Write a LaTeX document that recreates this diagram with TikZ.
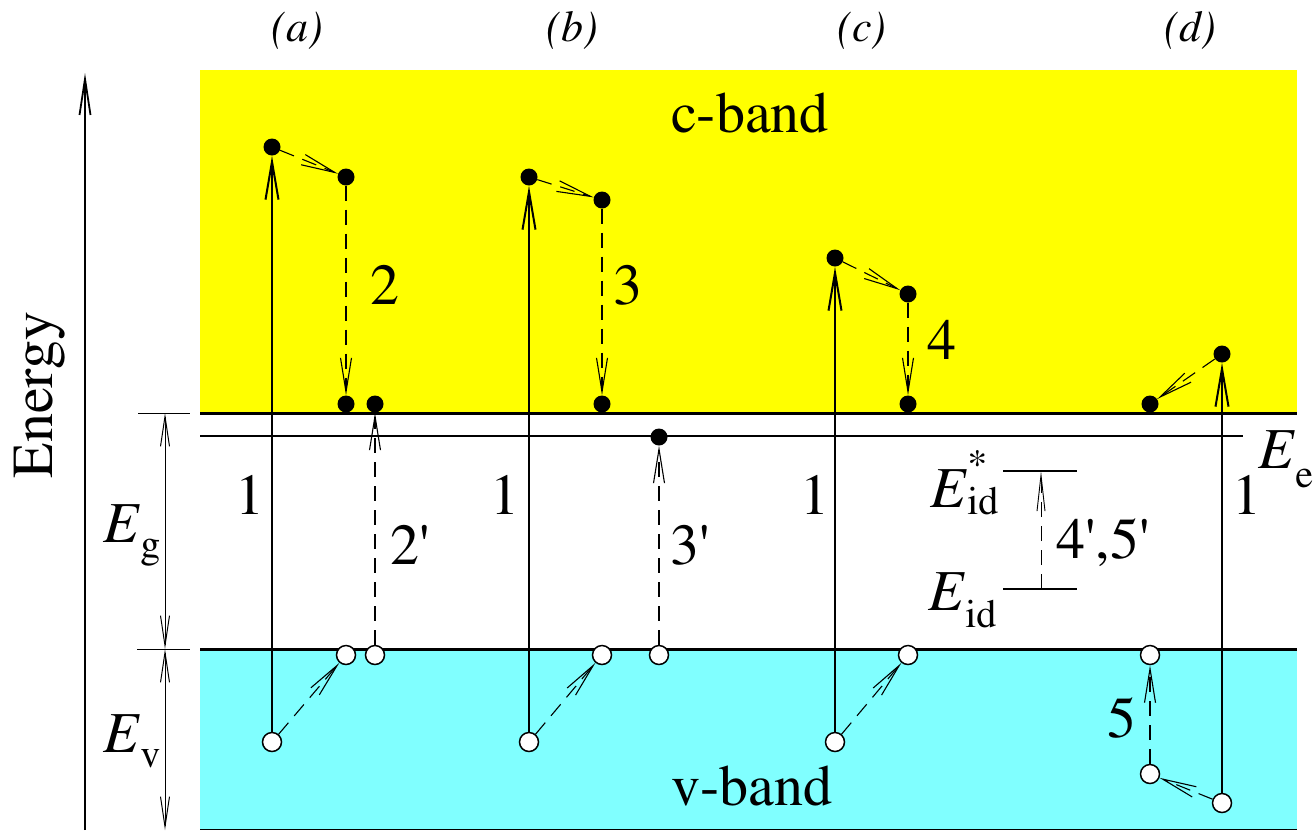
\documentclass[tikz,border=0pt]{standalone}
\usepackage[T1]{fontenc}
\usepackage{mathptmx}
\usetikzlibrary{arrows.meta,positioning}

\definecolor{cbandfill}{RGB}{255,255,0}
\definecolor{vbandfill}{RGB}{128,255,255}

\newcommand{\subsz}{\fontsize{40}{40}\selectfont}
\newcommand{\Elev}[3][-15pt]{\textit{E}\rlap{\raisebox{30pt}{\subsz #3}}\raisebox{#1}{\subsz #2}}
\newcommand{\pr}{\textquotesingle}

\begin{document}
\begin{tikzpicture}[
  x=1pt, y=-1pt,
  font=\rmfamily\fontsize{58}{60}\selectfont,
  >={Straight Barb[length=38pt,width=13pt]},
  elec/.style={
    circle,
    fill=black,
    minimum size=17pt,
    inner sep=0pt
  },
  hole/.style={
    circle,
    draw=black,
    line width=1.5pt,
    fill=white,
    minimum size=19pt,
    inner sep=0pt
  },
  bandline/.style={line width=3pt},
  pump/.style={->, line width=2pt},
  relax/.style={
    ->,
    line width=1.1pt,
    dash pattern=on 15pt off 9pt,
    >={Straight Barb[length=34pt,width=11pt]}
  },
  dimarr/.style={<->, line width=1pt, >={Straight Barb[length=30pt,width=9pt]}},
  panel/.style={font=\rmfamily\fontsize{44}{44}\selectfont\itshape, anchor=base}
]

\useasboundingbox (0,0) rectangle (1316,831);

% bands
\fill[cbandfill] (200,70) rectangle (1297,413);
\fill[vbandfill] (200,649) rectangle (1297,830);
\draw[bandline] (200,413) -- (1297,413);
\draw[bandline] (200,649) -- (1297,649);
\draw[line width=1pt] (200,829.5) -- (1297,829.5);
\draw[line width=2pt] (200,436) -- (1243,436);

\node[anchor=base] (cb) at (750,132) {c-band};
\node[anchor=base] (vb) at (752,805) {v-band};
\node[anchor=base west] (Ee) at (1255,468) {\Elev[-19pt]{e}{}};

% energy axis and gaps
\coordinate (ax0) at (85,830);
\coordinate (ax1) at (85,73);
\draw[->, line width=1.8pt, >={Straight Barb[length=36pt,width=11pt]}] (ax0) -- (ax1);
\node[rotate=90] (en) at (40,395) {Energy};

\coordinate (gtop) at (165,413);
\coordinate (gbot) at (165,649);
\coordinate (vbot) at (165,830);
\draw[line width=1pt] (138,413) -- (190,413);
\draw[line width=1pt] (137,649) -- (190,649);
\draw[dimarr] (gtop) -- (gbot);
\draw[dimarr] (gbot) -- (vbot);
\node[anchor=base west] (Eg) at (100,542) {\Elev{g}{}};
\node[anchor=base west] (Ev) at (100,752) {\Elev{v}{}};

% panel labels
\node[panel] (pa) at (297,41) {(a)};
\node[panel] (pb) at (572,41) {(b)};
\node[panel] (pc) at (862,41) {(c)};
\node[panel] (pd) at (1190,41) {(d)};

% (a)
\node[hole] (ha1) at (272,742) {};
\node[elec] (ea1) at (272,147) {};
\node[elec] (ea2) at (346,177) {};
\node[elec] (ea3) at (346,404) {};
\node[hole] (ha2) at (346,655) {};
\node[hole] (ha3) at (375,655) {};
\node[elec] (ea4) at (375,404) {};
\draw[pump] (ha1) -- (ea1);
\draw[relax] (ea1) -- (ea2);
\draw[relax] (ea2) -- (ea3);
\draw[relax] (ha1) -- (ha2);
\draw[relax] (ha3) -- (ea4);
\node (la1) at (250,495) {1};
\node (la2) at (385,285) {2};
\node (la3) at (410,545) {2\pr};

% (b)
\node[hole] (hb1) at (529,742) {};
\node[elec] (eb1) at (529,177) {};
\node[elec] (eb2) at (602,200) {};
\node[elec] (eb3) at (602,404) {};
\node[hole] (hb2) at (602,655) {};
\node[hole] (hb3) at (659,655) {};
\node[elec] (eb4) at (659,437) {};
\draw[pump] (hb1) -- (eb1);
\draw[relax] (eb1) -- (eb2);
\draw[relax] (eb2) -- (eb3);
\draw[relax] (hb1) -- (hb2);
\draw[relax] (hb3) -- (eb4);
\node (lb1) at (505,495) {1};
\node (lb2) at (628,285) {3};
\node (lb3) at (690,545) {3\pr};

% (c)
\node[hole] (hc1) at (835,742) {};
\node[elec] (ec1) at (835,258) {};
\node[elec] (ec2) at (908,294) {};
\node[elec] (ec3) at (908,404) {};
\node[hole] (hc2) at (908,655) {};
\draw[pump] (hc1) -- (ec1);
\draw[relax] (ec1) -- (ec2);
\draw[relax] (ec2) -- (ec3);
\draw[relax] (hc1) -- (hc2);
\node (lc1) at (815,495) {1};
\node (lc2) at (942,340) {4};

% impurity levels
\draw[line width=2pt] (1003,471) -- (1077,471);
\draw[line width=2pt] (1003,589) -- (1077,589);
\coordinate (idlo) at (1041,589);
\coordinate (idhi) at (1041,471);
\draw[relax, line width=0.9pt, >={Straight Barb[length=36pt,width=8pt]}] (idlo) -- (idhi);
\node[anchor=base west] (Eids) at (927,507) {\Elev[-7pt]{id}{*}};
\node[anchor=base west] (Eid) at (925,610) {\Elev[-17pt]{id}{}};
\node[anchor=base west] (l45) at (1053,558) {4\pr,5\pr};

% (d)
\node[hole] (hd1) at (1222,803) {};
\node[elec] (ed1) at (1222,354) {};
\node[elec] (ed2) at (1150,404) {};
\node[hole] (hd2) at (1150,774) {};
\node[hole] (hd3) at (1150,655) {};
\draw[pump] (hd1) -- (ed1);
\draw[relax] (ed1) -- (ed2);
\draw[relax] (hd1) -- (hd2);
\draw[relax] (hd2) -- (hd3);
\node (ld1) at (1247,495) {1};
\node (ld2) at (1122,718) {5};

\end{tikzpicture}
\end{document}
